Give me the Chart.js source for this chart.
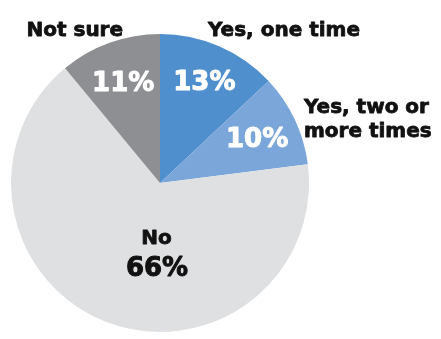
<!DOCTYPE html>
<html>
<head>
<meta charset="utf-8">
<script src="https://cdn.jsdelivr.net/npm/chart.js@4/dist/chart.umd.min.js"></script>
<style>
  html, body { margin: 0; padding: 0; background: #ffffff; }
  #wrap { width: 441px; height: 339px; }
</style>
</head>
<body>
<div id="wrap"><canvas id="c" width="441" height="339"></canvas></div>
<script>
const categories = ["Yes, one time", "Yes, two or more times", "No", "Not sure"];
const values = [13, 10, 66, 11];
const percentLabels = ["13%", "10%", "66%", "11%"];
const colors = ["#4F8FCD", "#7BA6D9", "#DFE0E2", "#8E8F93"];

const FONT = "'DejaVu Sans', sans-serif";

// label layout: offsets relative to pie center in units of radius (baseline positions)
const labelLayout = [
  { name: { lines: ["Yes, one time"], dx: 0.322, dy: -0.987, align: "left" }, pct: { frac: 0.75, color: "#ffffff" } },
  { name: { lines: ["Yes, two or", "more times"], dx: 0.966, dy: -0.47, align: "left" }, pct: { frac: 0.72, color: "#ffffff" } },
  { name: { lines: ["No"], dx: -0.023, dy: 0.409, align: "center" }, pct: { dx: -0.02, dy: 0.624, color: "#111111" } },
  { name: { lines: ["Not sure"], dx: -0.248, dy: -0.987, align: "right" }, pct: { frac: 0.73, color: "#ffffff" } }
];

function boldText(ctx, txt, x, y, color, w) {
  ctx.fillStyle = color;
  ctx.strokeStyle = color;
  ctx.lineWidth = w;
  ctx.lineJoin = "round";
  ctx.strokeText(txt, x, y);
  ctx.fillText(txt, x, y);
}

const labelPlugin = {
  id: "pieLabels",
  afterDatasetsDraw(chart) {
    const ctx = chart.ctx;
    const meta = chart.getDatasetMeta(0);
    meta.data.forEach((arc, i) => {
      const p = arc.getProps(["x", "y", "startAngle", "endAngle", "outerRadius"], true);
      const r = p.outerRadius;
      const lay = labelLayout[i];
      ctx.save();
      ctx.textBaseline = "alphabetic";
      // percentage
      let px, py;
      if (lay.pct.frac !== undefined) {
        const mid = (p.startAngle + p.endAngle) / 2;
        px = p.x + Math.cos(mid) * r * lay.pct.frac;
        py = p.y + Math.sin(mid) * r * lay.pct.frac + 10;
      } else {
        px = p.x + lay.pct.dx * r;
        py = p.y + lay.pct.dy * r;
      }
      ctx.font = "bold 26px " + FONT;
      ctx.textAlign = "center";
      boldText(ctx, percentLabels[i], px, py, lay.pct.color, 1.0);
      // name
      const nx = p.x + lay.name.dx * r;
      const ny = p.y + lay.name.dy * r;
      ctx.font = "bold 20px " + FONT;
      ctx.textAlign = lay.name.align;
      lay.name.lines.forEach((ln, k) => {
        boldText(ctx, ln, nx, ny + k * 24, "#111111", 0.8);
      });
      ctx.restore();
    });
  }
};

new Chart(document.getElementById("c"), {
  type: "pie",
  data: {
    labels: categories,
    datasets: [{
      data: values,
      backgroundColor: colors,
      borderWidth: 0,
      hoverOffset: 0
    }]
  },
  options: {
    responsive: false,
    animation: false,
    layout: { padding: { left: 11, right: 132, top: 34, bottom: 7 } },
    plugins: {
      legend: { display: false },
      tooltip: { enabled: false }
    },
    events: []
  },
  plugins: [labelPlugin]
});
</script>
</body>
</html>
